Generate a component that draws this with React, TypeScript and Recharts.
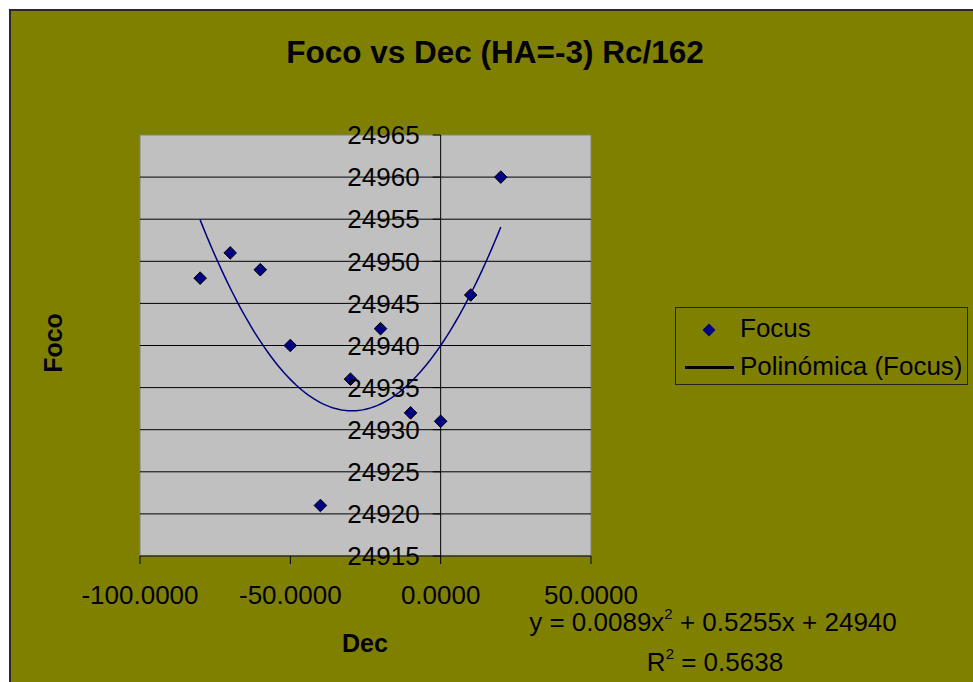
import React from 'react';
import { ScatterChart, Scatter, XAxis, YAxis, ReferenceArea, ReferenceLine, Legend } from 'recharts';

// Measured focus positions at each declination
const decValues = [-80, -70, -60, -50, -40, -30, -20, -10, 0, 10, 20];
const focusValues = [24948, 24951, 24949, 24940, 24921, 24936, 24942, 24932, 24931, 24946, 24960];

// Axis ticks
const xTicks = [-100, -50, 0, 50];
const yTicks = [24915, 24920, 24925, 24930, 24935, 24940, 24945, 24950, 24955, 24960, 24965];

// Polynomial trendline y = a x^2 + b x + c, as printed under the chart
const trendCoefficients = [0.0089, 0.5255, 24940];
const trendRange = [-80, 20];
const rSquared = '0.5638';

const FONT = '"Liberation Sans", Arial, sans-serif';
const OLIVE = '#808000';
const NAVY = '#000080';
// Length of the Y axis tick marks, in declination units
const Y_TICK_LEN = 2.66;

const focusData = decValues.map((x, i) => ({ x, y: focusValues[i] }));

const trendData: { x: number; y: number }[] = [];
for (let x = trendRange[0]; x <= trendRange[1]; x += 1) {
  const [a, b, c] = trendCoefficients;
  trendData.push({ x, y: a * x * x + b * x + c });
}

const Diamond = (props: any) => {
  const { cx, cy } = props;
  if (cx == null || cy == null) return <g />;
  const r = 6.3;
  return (
    <path
      d={`M${cx},${cy - r}L${cx + r},${cy}L${cx},${cy + r}L${cx - r},${cy}Z`}
      fill={NAVY}
      stroke="#000"
      strokeWidth={1}
    />
  );
};

const LegendBox = () => (
  <div
    style={{
      width: 293,
      height: 78,
      boxSizing: 'border-box',
      border: '1px solid #222',
      background: OLIVE,
    }}
  >
    <svg width={291} height={76} style={{ display: 'block' }}>
      <path d="M33,15.5L39.5,22L33,28.5L26.5,22Z" fill={NAVY} />
      <text x={64} y={29} fontFamily={FONT} fontSize={26} fill="#000">Focus</text>
      <line x1={9} x2={58} y1={59.5} y2={59.5} stroke="#000" strokeWidth={3} />
      <text x={64} y={67} fontFamily={FONT} fontSize={26} fill="#000">Polinómica (Focus)</text>
    </svg>
  </div>
);

export default function App() {
  return (
    <div
      style={{
        position: 'absolute',
        left: 9,
        top: 9,
        width: 964,
        height: 673,
        boxSizing: 'border-box',
        borderLeft: '2px solid #2a2a2a',
        borderTop: '2px solid #2a2a2a',
        background: OLIVE,
        overflow: 'hidden',
      }}
    >
      <ScatterChart
        width={962}
        height={671}
        margin={{ top: 124, right: 382, bottom: 66, left: 129 }}
      >
        <XAxis
          type="number"
          dataKey="x"
          domain={[-100, 50]}
          ticks={xTicks}
          allowDataOverflow
          height={60}
          axisLine={{ stroke: '#000', strokeWidth: 1 }}
          tickLine={{ stroke: '#000', strokeWidth: 1 }}
          tickSize={8}
          tickMargin={22}
          tick={{ fill: '#000', fontSize: 26, fontFamily: FONT }}
          tickFormatter={(v: number) => v.toFixed(4)}
        />
        <YAxis type="number" dataKey="y" domain={[24915, 24965]} allowDataOverflow hide width={0} />

        <ReferenceArea
          x1={-100}
          x2={50}
          y1={24915}
          y2={24965}
          fill="#C0C0C0"
          fillOpacity={1}
          stroke="#808080"
          strokeWidth={1}
        />

        {yTicks.slice(1, -1).map((v) => (
          <ReferenceLine key={`g${v}`} y={v} stroke="#000" strokeWidth={1} />
        ))}

        <ReferenceLine x={0} stroke="#000" strokeWidth={1} />

        {yTicks.map((v) => (
          <ReferenceLine
            key={`t${v}`}
            segment={[{ x: -Y_TICK_LEN, y: v }, { x: 0, y: v }]}
            stroke="#000"
            strokeWidth={1}
            label={{
              value: String(v),
              position: 'left',
              offset: 13,
              fill: '#000',
              fontSize: 26,
              fontFamily: FONT,
            }}
          />
        ))}

        <Scatter
          name="Polinómica (Focus)"
          data={trendData}
          line={{ stroke: NAVY, strokeWidth: 1.5 }}
          lineType="joint"
          shape={() => <g />}
          isAnimationActive={false}
        />
        <Scatter name="Focus" data={focusData} shape={Diamond} isAnimationActive={false} />

        <Legend
          layout="vertical"
          align="center"
          verticalAlign="middle"
          wrapperStyle={{ position: 'absolute', left: 664, top: 296, width: 293, height: 78 }}
          content={() => <LegendBox />}
        />

        <text x={484} y={52} textAnchor="middle" fontFamily={FONT} fontSize={31.5} fontWeight="bold" fill="#000">
          Foco vs Dec (HA=-3) Rc/162
        </text>
        <text
          x={50.7}
          y={332}
          transform="rotate(-90, 50.7, 332)"
          textAnchor="middle"
          fontFamily={FONT}
          fontSize={25}
          fontWeight="bold"
          fill="#000"
        >
          Foco
        </text>
        <text x={354} y={640.7} textAnchor="middle" fontFamily={FONT} fontSize={25} fontWeight="bold" fill="#000">
          Dec
        </text>
        <text x={702} y={619.7} textAnchor="middle" fontFamily={FONT} fontSize={26} fill="#000">
          <tspan>{`y = ${trendCoefficients[0]}x`}</tspan>
          <tspan fontSize={15} dy={-12}>2</tspan>
          <tspan dy={12}>{` + ${trendCoefficients[1]}x + ${trendCoefficients[2]}`}</tspan>
        </text>
        <text x={704} y={659.7} textAnchor="middle" fontFamily={FONT} fontSize={26} fill="#000">
          <tspan>R</tspan>
          <tspan fontSize={15} dy={-12}>2</tspan>
          <tspan dy={12}>{` = ${rSquared}`}</tspan>
        </text>
      </ScatterChart>
    </div>
  );
}
